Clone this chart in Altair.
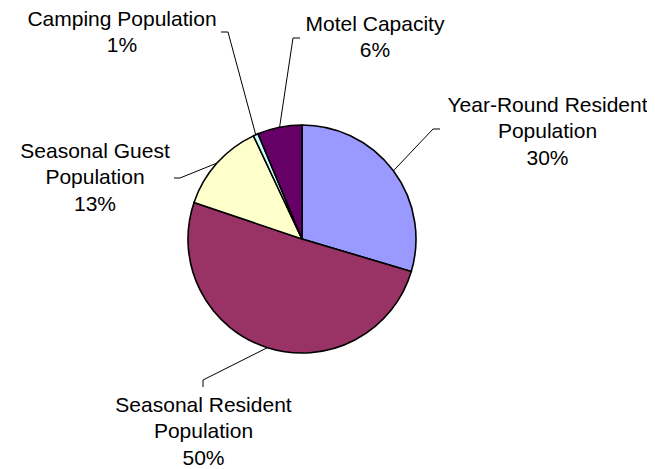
import math
import altair as alt
import pandas as pd

# ---- data ----
categories = [
    "Year-Round Resident Population",
    "Seasonal Resident Population",
    "Seasonal Guest Population",
    "Camping Population",
    "Motel Capacity",
]
shares = [29.6, 50.6, 12.8, 0.7, 6.3]
pct_labels = ["30%", "50%", "13%", "1%", "6%"]
name_lines = [
    ["Year-Round Resident", "Population"],
    ["Seasonal Resident", "Population"],
    ["Seasonal Guest", "Population"],
    ["Camping Population"],
    ["Motel Capacity"],
]
colors = ["#9999FF", "#993366", "#FFFFCC", "#CCFFFF", "#660066"]

# ---- layout (pixels in the plot area) ----
CX, CY, R = 294, 231, 114
LINE_H = 26.3
label_anchor = {  # centre x, first baseline y
    categories[0]: (539.5, 104),
    categories[1]: (195.5, 404),
    categories[2]: (87, 150),
    categories[3]: (114, 18),
    categories[4]: (367, 23),
}
elbows = {
    categories[0]: [(432, 121), (425, 121)],
    categories[1]: [(195, 379), (195, 372)],
    categories[2]: [(166, 170), (172, 170)],
    categories[3]: [(213, 24), (220, 24)],
    categories[4]: [(292, 30), (285, 30)],
}

pie_df = pd.DataFrame({
    "category": categories,
    "share": shares,
    "idx": list(range(len(categories))),
})

text_rows = []
line_rows = []
cum = 0.0
for cat, s, pct, names in zip(categories, shares, pct_labels, name_lines):
    ax, ay = label_anchor[cat]
    for i, t in enumerate(names + [pct]):
        text_rows.append({"x": ax, "y": ay + i * LINE_H, "text": t})
    a = 2 * math.pi * (cum + s / 2) / 100.0
    ex, ey = CX + R * math.sin(a), CY - R * math.cos(a)
    pts = elbows[cat] + [(ex, ey)]
    for k, (px, py) in enumerate(pts):
        line_rows.append({"cat": cat, "ord": k, "x": px, "y": py})
    cum += s

text_df = pd.DataFrame(text_rows)
line_df = pd.DataFrame(line_rows)

pie = alt.Chart(pie_df).mark_arc(
    outerRadius=R, stroke="black", strokeWidth=1.6
).encode(
    theta=alt.Theta("share:Q", stack=True),
    order=alt.Order("idx:Q"),
    color=alt.Color("category:N", scale=alt.Scale(domain=categories, range=colors), legend=None),
    x=alt.value(CX),
    y=alt.value(CY),
)

leaders = alt.Chart(line_df).mark_line(color="black", strokeWidth=1).encode(
    x=alt.X("x:Q", scale=None, axis=None),
    y=alt.Y("y:Q", scale=None, axis=None),
    detail="cat:N",
    order="ord:Q",
)

labels = alt.Chart(text_df).mark_text(
    font="Liberation Sans", fontSize=21, color="black", align="center", baseline="alphabetic"
).encode(
    x=alt.X("x:Q", scale=None, axis=None),
    y=alt.Y("y:Q", scale=None, axis=None),
    text="text:N",
)

chart = alt.layer(pie, leaders, labels).properties(
    width=639, height=461, padding=0, autosize=alt.AutoSizeParams(type="none")
).configure_view(stroke=None)

chart.save("out.html", embed_options={"renderer": "svg", "actions": False})
